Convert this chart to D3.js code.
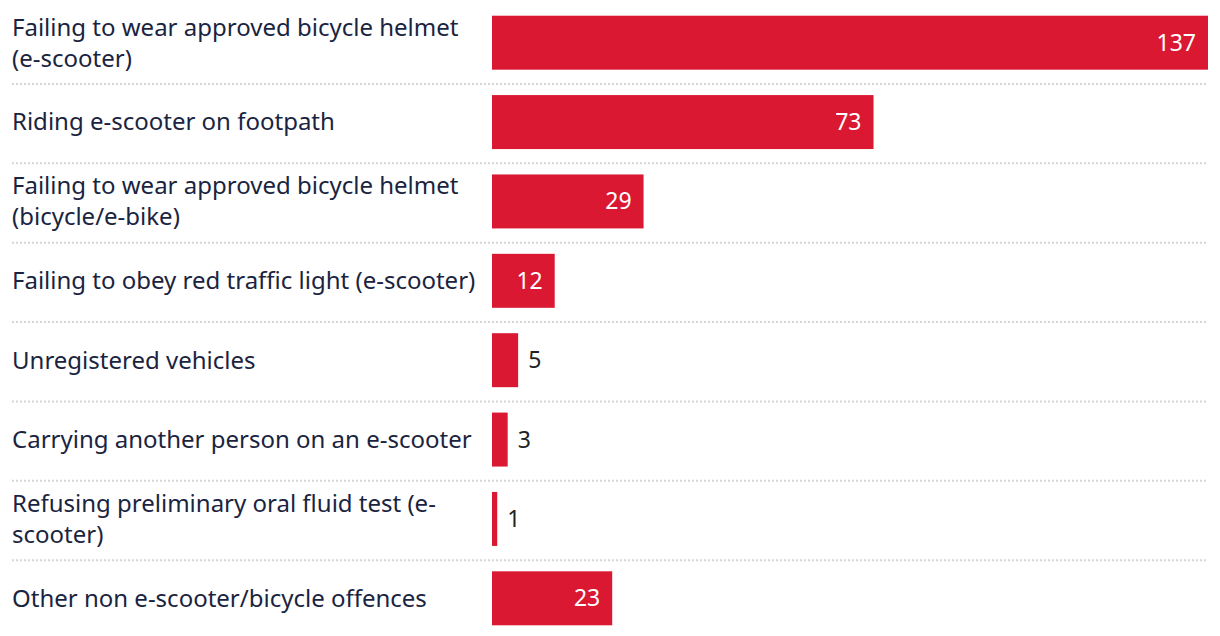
<!DOCTYPE html>
<html>
<head>
<meta charset="utf-8">
<script src="https://cdn.jsdelivr.net/npm/d3@7"></script>
<style>
  body { margin: 0; background: #fff; }
  svg { display: block; }
  text { font-family: "Noto Sans", "Open Sans", sans-serif; }
</style>
</head>
<body>
<div id="chart"></div>
<script>
// offence categories and counts
var categories = [
  "Failing to wear approved bicycle helmet (e-scooter)",
  "Riding e-scooter on footpath",
  "Failing to wear approved bicycle helmet (bicycle/e-bike)",
  "Failing to obey red traffic light (e-scooter)",
  "Unregistered vehicles",
  "Carrying another person on an e-scooter",
  "Refusing preliminary oral fluid test (e-scooter)",
  "Other non e-scooter/bicycle offences"
];
var values = [137, 73, 29, 12, 5, 3, 1, 23];

var w = 1220, h = 636;
var barColor = "#da1832";
var labelWidth = 472;

var svg = d3.select("#chart").append("svg")
  .attr("width", w)
  .attr("height", h);

var x = d3.scaleLinear()
  .domain([0, d3.max(values)])
  .range([492, 1208]);

var y = d3.scaleBand()
  .domain(categories)
  .range([3, 638])
  .paddingInner(0.32)
  .paddingOuter(0.16);

var data = categories.map(function(c, i) { return { cat: c, val: values[i] }; });

//dotted separators between rows
svg.selectAll(".sep")
  .data(categories.slice(1))
  .enter()
  .append("line")
  .attr("class", "sep")
  .attr("x1", 12)
  .attr("x2", 1208)
  .attr("y1", function(d) { return y(d) - (y.step() - y.bandwidth()) / 2 + 1.5; })
  .attr("y2", function(d) { return y(d) - (y.step() - y.bandwidth()) / 2 + 1.5; })
  .attr("stroke", "#d6d6d6")
  .attr("stroke-width", 2)
  .attr("stroke-dasharray", "2,2");

//bars
svg.selectAll(".bar")
  .data(data)
  .enter()
  .append("rect")
  .attr("class", "bar")
  .attr("x", x(0))
  .attr("y", function(d) { return y(d.cat); })
  .attr("width", function(d) { return x(d.val) - x(0); })
  .attr("height", y.bandwidth())
  .attr("fill", barColor);

//value labels, inside the bar if there is room
svg.selectAll(".val")
  .data(data)
  .enter()
  .append("text")
  .attr("class", "val")
  .attr("font-size", "23px")
  .attr("dy", "0.35em")
  .attr("y", function(d) { return y(d.cat) + y.bandwidth() / 2; })
  .each(function(d) {
    var inside = x(d.val) - x(0) > 50;
    d3.select(this)
      .attr("x", inside ? x(d.val) - 12 : x(d.val) + 10)
      .attr("text-anchor", inside ? "end" : "start")
      .attr("fill", inside ? "#fff" : "#222")
      .text(d.val);
  });

//category labels, wrapped to the label column
var labels = svg.selectAll(".label")
  .data(data)
  .enter()
  .append("text")
  .attr("class", "label")
  .attr("font-size", "24px")
  .attr("fill", "#1a2440");

labels.each(function(d) {
  var t = d3.select(this);
  // break on spaces and after hyphens
  var parts = d.cat.match(/[^\s-]*-|[^\s]+/g);
  var lines = [];
  var line = "";
  var probe = t.append("tspan");
  for (var i = 0; i < parts.length; i++) {
    var sep = (line === "" || /-$/.test(line)) ? "" : " ";
    var test = line + sep + parts[i];
    probe.text(test);
    if (probe.node().getComputedTextLength() > labelWidth && line !== "") {
      lines.push(line);
      line = parts[i];
    } else {
      line = test;
    }
  }
  lines.push(line);
  probe.remove();
  var lh = 31;
  var cy = y(d.cat) + y.bandwidth() / 2;
  var top = cy - (lines.length - 1) * lh / 2;
  lines.forEach(function(l, i) {
    t.append("tspan")
      .attr("x", 12)
      .attr("y", top + i * lh)
      .attr("dy", "0.35em")
      .text(l);
  });
});
</script>
</body>
</html>
